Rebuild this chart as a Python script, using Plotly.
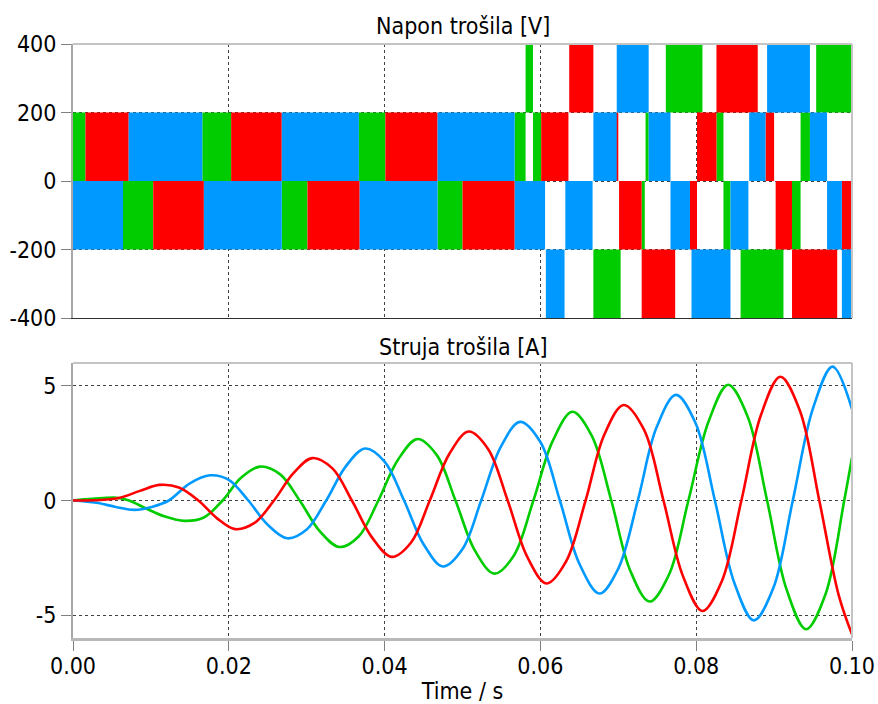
import plotly.graph_objects as go

# ---------------- Top panel: load voltage PWM blocks (time in ms, voltage in V)
green_start = [0, 6.4, 16.6, 26.8, 36.7, 46.8, 56.7, 58.1, 59.05, 66.8, 73.0, 73.5, 76.1, 82.6, 83.5, 85.7, 92.3, 93.4, 95.4]
green_end   = [1.6, 10.3, 20.3, 30.1, 40.1, 50.0, 58.1, 59.05, 60.1, 70.3, 73.4, 73.9, 80.8, 83.5, 84.4, 91.2, 93.4, 94.6, 100]
green_low   = [0, -200, 0, -200, 0, -200, 0, 200, 0, -400, -200, 0, 200, 0, -200, -400, -200, 0, 200]
green_high  = [200, 0, 200, 0, 200, 0, 200, 400, 200, -200, 0, 200, 400, 200, 0, -200, 0, 200, 400]

red_start = [1.6, 10.3, 20.3, 30.1, 40.1, 50.0, 60.1, 63.7, 69.8, 70.1, 73.0, 79.2, 80.1, 82.6, 88.9, 90.2, 92.3, 98.7]
red_end   = [7.15, 16.8, 26.8, 36.8, 46.8, 56.7, 63.6, 66.8, 70.0, 73.0, 77.3, 80.1, 82.6, 87.9, 90.0, 92.3, 98.1, 100]
red_low   = [0, -200, 0, -200, 0, -200, 0, 200, 0, -200, -400, -200, 0, 200, 0, -200, -400, -200]
red_high  = [200, 0, 200, 0, 200, 0, 200, 400, 200, 0, -200, 0, 200, 400, 200, 0, -200, 0]

blue_start = [0, 7.15, 16.8, 26.8, 36.8, 46.8, 56.7, 60.7, 63.2, 66.8, 69.8, 73.9, 76.7, 79.4, 84.4, 86.8, 89.1, 94.6, 96.8, 98.7]
blue_end   = [6.43, 16.6, 26.8, 36.7, 46.8, 56.7, 60.6, 63.1, 66.7, 69.8, 73.9, 76.7, 79.2, 84.4, 86.7, 88.9, 94.6, 96.8, 98.7, 100]
blue_low   = [-200, 0, -200, 0, -200, 0, -200, -400, -200, 0, 200, 0, -200, -400, -200, 0, 200, 0, -200, -400]
blue_high  = [0, 200, 0, 200, 0, 200, 0, -200, 0, 200, 400, 200, 0, -200, 0, 200, 400, 200, 0, -200]

# ---------------- Bottom panel: load currents (time in ms, current in A)
red_t = [0, 3.5, 6, 8.6, 11.1, 13.6, 16.1, 18.5, 20.8, 23.3, 25.8, 28.3, 30.7, 33.3, 35.8, 38.4, 40.9,
         43.4, 45.8, 48.3, 50.8, 53.3, 55.8, 58.3, 60.8, 63.3, 65.8, 68.2, 70.7, 73.3, 75.8, 78.3, 80.8,
         83.3, 85.8, 88.3, 90.8, 93.3, 95.8, 98.3, 100]
red_i = [0, 0.02, 0.12, 0.42, 0.68, 0.57, 0, -0.78, -1.25, -0.98, 0, 1.19, 1.85, 1.40, 0, -1.62, -2.46,
         -1.83, 0, 2.03, 3.01, 2.24, 0, -2.45, -3.62, -2.66, 0, 2.87, 4.17, 3.09, 0, -3.30, -4.82,
         -3.51, 0, 3.72, 5.40, 3.93, 0, -4.14, -5.84]

green_t = [0, 2.5, 5.6, 7.2, 9.4, 11.8, 14.3, 16.8, 19.2, 21.6, 24.0, 26.6, 29.1, 31.7, 34.2, 36.7, 39.2,
           41.7, 44.2, 46.7, 49.1, 51.6, 54.1, 56.6, 59.1, 61.6, 64.1, 66.6, 69.1, 71.5, 74.0, 76.5, 79.0,
           81.6, 84.1, 86.6, 89.1, 91.6, 94.1, 96.6, 99.0, 100]
green_i = [0, 0.07, 0.12, 0, -0.35, -0.70, -0.89, -0.74, 0, 1.00, 1.48, 1.14, 0, -1.35, -2.03, -1.56, 0,
           1.77, 2.68, 1.98, 0, -2.19, -3.19, -2.40, 0, 2.61, 3.87, 2.82, 0, -3.03, -4.41, -3.24, 0,
           3.46, 5.05, 3.67, 0, -3.88, -5.62, -4.09, 0, 1.88]

blue_t = [0, 3, 5.5, 7.9, 10.1, 12.3, 15.0, 17.6, 20.0, 22.5, 25.0, 27.5, 30.0, 32.5, 35.0, 37.5, 40.0,
          42.5, 45.0, 47.5, 50.0, 52.4, 54.9, 57.4, 60.0, 62.5, 65.0, 67.6, 70.0, 72.5, 74.9, 77.4, 79.9,
          82.4, 84.9, 87.4, 89.9, 92.4, 95.0, 97.5, 100]
blue_i = [0, -0.10, -0.28, -0.41, -0.28, 0, 0.75, 1.10, 0.90, 0, -1.06, -1.65, -1.27, 0, 1.48, 2.27, 1.70,
          0, -1.91, -2.88, -2.12, 0, 2.33, 3.43, 2.55, 0, -2.76, -4.06, -2.97, 0, 3.18, 4.61, 3.39,
          0, -3.60, -5.23, -3.82, 0, 4.03, 5.84, 3.99]

# ---------------- Axis ticks
x_ticks = [0.00, 0.02, 0.04, 0.06, 0.08, 0.10]
x_ticktext = ["0.00", "0.02", "0.04", "0.06", "0.08", "0.10"]
v_ticks = [400, 200, 0, -200, -400]
v_ticktext = ["400", "200", "0", "-200", "-400"]
i_ticks = [5, 0, -5]
i_ticktext = ["5", "0", "-5"]

title_top = "Napon trošila [V]"
title_bottom = "Struja trošila [A]"
x_title = "Time / s"

GREEN = "#00CC00"
RED = "#FF0000"
BLUE = "#0099FF"

FONT = "DejaVu Sans Condensed, DejaVu Sans, sans-serif"
FS = 23

fig = go.Figure()


def add_blocks(starts, ends, lows, highs, color):
    fig.add_trace(go.Bar(
        x=[(s + e) / 2000.0 for s, e in zip(starts, ends)],
        y=[h - l for l, h in zip(lows, highs)],
        base=lows,
        width=[(e - s) / 1000.0 for s, e in zip(starts, ends)],
        marker=dict(color=color, line=dict(width=0)),
        opacity=1,
        showlegend=False,
        hoverinfo="skip",
        xaxis="x", yaxis="y",
    ))


add_blocks(green_start, green_end, green_low, green_high, GREEN)
add_blocks(red_start, red_end, red_low, red_high, RED)
add_blocks(blue_start, blue_end, blue_low, blue_high, BLUE)


def add_current(t, i, color):
    fig.add_trace(go.Scatter(
        x=[v / 1000.0 for v in t], y=i, mode="lines",
        line=dict(color=color, width=2.6, shape="spline", smoothing=1.0),
        showlegend=False, xaxis="x2", yaxis="y2",
    ))


add_current(green_t, green_i, GREEN)
add_current(blue_t, blue_i, BLUE)
add_current(red_t, red_i, RED)

grid = dict(showgrid=True, gridcolor="#404040", griddash="dot", gridwidth=1, zeroline=False, automargin=False)

top_dom = [(638 - 318) / 594.0, 1.0]
bot_dom = [0.0, (638 - 363) / 594.0]

fig.update_layout(
    width=878, height=704,
    margin=dict(l=73, r=26, t=44, b=66),
    paper_bgcolor="white", plot_bgcolor="white",
    barmode="overlay",
    font=dict(family=FONT, size=FS, color="black"),
    xaxis=dict(domain=[0, 1], anchor="y", range=[0, 0.1], tickvals=x_ticks, showticklabels=False,
               ticks="", showline=True, linecolor="#303030", linewidth=1, **grid),
    yaxis=dict(domain=top_dom, anchor="x", range=[-400, 400], tickvals=v_ticks, ticktext=v_ticktext,
               ticks="outside", ticklen=10, tickcolor="#808080", tickwidth=1,
               showline=True, linecolor="#a8a8a8", linewidth=2, **grid),
    xaxis2=dict(domain=[0, 1], anchor="y2", range=[0, 0.1], tickvals=x_ticks, ticktext=x_ticktext,
                ticks="outside", ticklen=10, tickcolor="#808080", tickwidth=1, ticklabelstandoff=-5,
                showline=True, linecolor="#b8b8b8", linewidth=3,
                title=dict(text=x_title, standoff=12, font=dict(size=FS)), **grid),
    yaxis2=dict(domain=bot_dom, anchor="x2", range=[-6, 6], tickvals=i_ticks, ticktext=i_ticktext,
                ticks="outside", ticklen=10, tickcolor="#808080", tickwidth=1,
                showline=True, linecolor="#a8a8a8", linewidth=2, **grid),
)

# frame (top and right edges)
for xr, yr in (("x domain", "y domain"), ("x2 domain", "y2 domain")):
    fig.add_shape(type="line", xref=xr, yref=yr, x0=0, x1=1, y0=1, y1=1,
                  line=dict(color="#c4c4c4", width=2))
    fig.add_shape(type="line", xref=xr, yref=yr, x0=1, x1=1, y0=0, y1=1,
                  line=dict(color="#c4c4c4", width=2))

fig.add_annotation(text=title_top, xref="paper", yref="paper", x=0.5, y=1.0, yshift=3,
                   xanchor="center", yanchor="bottom", showarrow=False, font=dict(size=FS))
fig.add_annotation(text=title_bottom, xref="paper", yref="paper", x=0.5, y=bot_dom[1], yshift=1,
                   xanchor="center", yanchor="bottom", showarrow=False, font=dict(size=FS))

fig.write_html("out.html",
               config={"displayModeBar": False},
               post_script="document.body.style.margin='0';document.body.style.overflow='hidden';")
